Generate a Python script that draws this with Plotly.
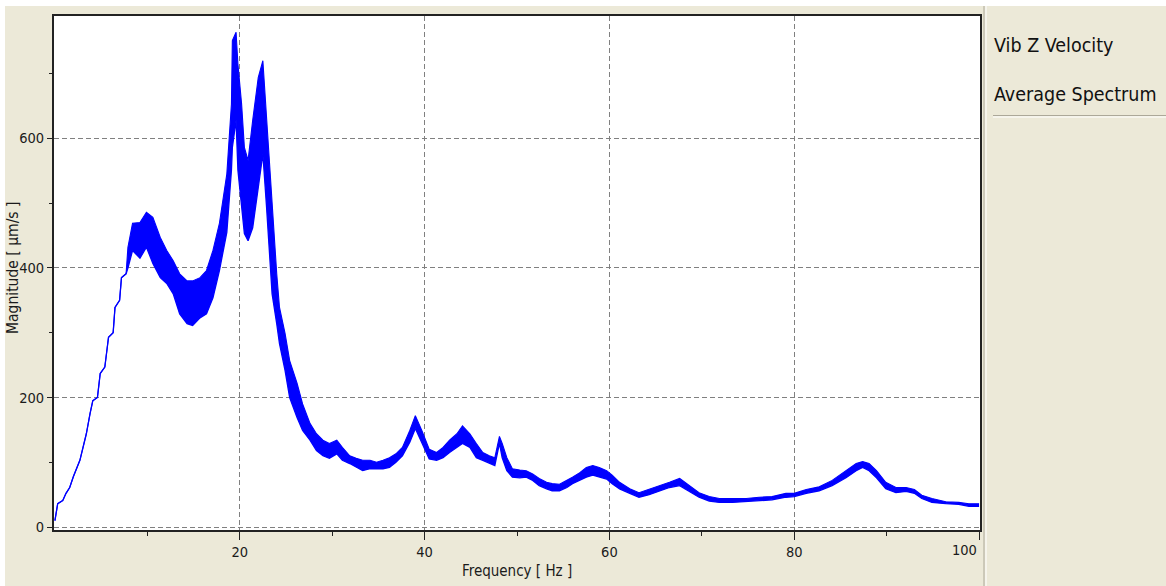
import plotly.graph_objects as go

# ---- data (Hz, µm/s) ----
freq = [0.0, 0.3, 0.85, 1.2, 1.6, 2.0, 2.7, 3.4, 3.8, 4.1, 4.6, 4.9, 5.4, 5.8, 6.3, 6.5, 7.0, 7.2, 7.7,
        7.9, 8.4, 9.2, 9.9, 10.6, 11.4, 12.1, 12.8, 13.5, 14.3, 14.9, 15.7, 16.4, 17.1, 17.8, 18.6,
        19.1, 19.2, 19.6, 19.8, 20.2, 20.5, 20.9, 21.4, 22.0, 22.5, 22.9, 23.5, 24.0, 24.3, 24.9,
        25.4, 26.2, 26.8, 27.6, 28.3, 29.0, 29.7, 30.5, 31.1, 31.9, 32.6, 33.3, 34.1, 34.8, 35.5,
        36.2, 36.9, 37.6, 38.4, 39.0, 39.7, 40.5, 41.3, 42.0, 42.7, 43.5, 44.1, 44.9, 45.6, 46.3,
        47.0, 47.6, 48.1, 48.4, 48.9, 49.5, 50.3, 51.0, 51.7, 52.4, 53.2, 53.8, 54.6, 55.4, 56.0,
        56.8, 57.5, 58.2, 58.9, 59.7, 60.3, 61.1, 62.2, 63.2, 64.3, 65.4, 66.5, 67.6, 68.6, 69.7,
        70.8, 71.9, 73.3, 74.8, 76.2, 77.6, 79.1, 80.0, 81.3, 82.7, 84.1, 85.6, 86.7, 87.4, 88.1,
        88.9, 89.9, 91.0, 92.1, 93.0, 93.8, 94.9, 96.4, 97.8, 98.9, 100.0]

mag_hi = [10, 36, 41, 52, 61, 78, 103, 144, 175, 195, 200, 237, 247, 293, 300, 339, 350, 385, 391,
          432, 469, 470, 486, 478, 447, 427, 411, 391, 380, 380, 385, 396, 427, 469, 545,
          653, 751, 764, 715, 653, 586, 566, 628, 694, 720, 628, 494, 391, 339, 299,
          257, 222, 190, 160, 144, 134, 129, 134, 123, 110, 106, 103, 103, 100, 103,
          107, 113, 123, 149, 172, 149, 120, 115, 123, 134, 144, 156, 144, 129, 115,
          110, 107, 140, 129, 107, 90, 88, 87, 82, 75, 69, 67, 66, 72, 77,
          84, 92, 95, 92, 87, 80, 69, 59, 53, 58, 64, 69, 75, 64, 53,
          47, 44, 44, 44, 46, 47, 52, 52, 58, 62, 72, 87, 98, 101, 98,
          87, 69, 61, 61, 58, 49, 44, 39, 38, 36, 36]

mag_lo = [10, 36, 41, 52, 61, 78, 103, 144, 175, 195, 200, 237, 247, 293, 300, 339, 350, 385, 391,
          400, 427, 415, 432, 407, 385, 376, 360, 329, 314, 311, 323, 329, 354, 396, 455,
          551, 586, 628, 551, 494, 453, 442, 462, 524, 576, 494, 360, 314, 283, 242,
          200, 169, 149, 134, 118, 110, 106, 113, 103, 98, 92, 87, 90, 90, 90,
          92, 100, 110, 131, 152, 129, 105, 103, 107, 115, 123, 129, 123, 107, 103,
          98, 95, 129, 107, 87, 77, 76, 77, 72, 64, 59, 56, 56, 61, 67,
          72, 77, 80, 77, 74, 67, 59, 52, 46, 50, 56, 61, 64, 55, 46,
          40, 38, 38, 39, 41, 42, 46, 47, 52, 56, 64, 76, 87, 92, 87,
          76, 59, 53, 55, 52, 44, 38, 36, 35, 32, 32]

x_ticks = [20, 40, 60, 80, 100]
x_tick_text = ["20", "40", "60", "80", ""]   # "100" is drawn right-aligned at the axis end
x_last_label = "100"
x_minor = [10, 30, 50, 70, 90]
y_ticks = [0, 200, 400, 600]
y_minor = [100, 300, 500, 700]

x_title = "Frequency [ Hz ]"
y_title = "Magnitude [ µm/s ]"
panel_lines = ["Vib Z Velocity", "Average Spectrum"]

# ---- layout geometry (pixels) ----
W, H = 1166, 586
L, R, T, B = 54, 980, 16, 530
FONT = "DejaVu Sans Condensed, DejaVu Sans, sans-serif"
BEIGE = "#ECE9D8"
BLUE = "#0000FF"
TXT = "#1b1b1b"


def px(x):
    return (x - L) / (R - L)


def py(y):
    return (B - y) / (B - T)


fig = go.Figure()
fig.add_trace(go.Scatter(x=freq, y=mag_lo, mode="lines",
                         line=dict(color=BLUE, width=1.3), hoverinfo="skip", showlegend=False))
fig.add_trace(go.Scatter(x=freq, y=mag_hi, mode="lines", fill="tonexty", fillcolor=BLUE,
                         line=dict(color=BLUE, width=1.1), showlegend=False))

axis_common = dict(
    showline=True, mirror=True, linecolor="#222222", linewidth=2,
    ticks="outside", tickcolor="#222222", tickwidth=1,
    showgrid=True, gridcolor="#808080", gridwidth=1, griddash="5px,3px",
    zeroline=False,
    tickfont=dict(family=FONT, size=14.5, color=TXT),
    fixedrange=True,
)

fig.update_xaxes(range=[-0.1, 100.1], tickmode="array", tickvals=x_ticks, ticktext=x_tick_text,
                 ticklen=8,
                 minor=dict(tickmode="array", tickvals=x_minor, ticks="outside", ticklen=4,
                            tickcolor="#222222", showgrid=False),
                 **axis_common)
fig.update_yaxes(range=[-4.6, 789], tickmode="array", tickvals=y_ticks, ticklen=5,
                 minor=dict(tickmode="array", tickvals=y_minor, ticks="outside", ticklen=3,
                            tickcolor="#222222", showgrid=False),
                 **axis_common)

shapes = [
    # white outer strips (left / top)
    dict(type="rect", xref="paper", yref="paper", x0=px(-2), x1=px(5), y0=py(H + 2), y1=py(-2),
         fillcolor="white", line=dict(width=0), layer="below"),
    dict(type="rect", xref="paper", yref="paper", x0=px(-2), x1=px(W + 2), y0=py(6), y1=py(-2),
         fillcolor="white", line=dict(width=0), layer="below"),
    # vertical panel separator
    dict(type="line", xref="paper", yref="paper", x0=px(984), x1=px(984), y0=py(6), y1=py(H + 2),
         line=dict(color="#ACA899", width=1)),
    dict(type="line", xref="paper", yref="paper", x0=px(986), x1=px(986), y0=py(6), y1=py(H + 2),
         line=dict(color="#FFFFFF", width=1)),
    # horizontal separator under panel text
    dict(type="line", xref="paper", yref="paper", x0=px(993), x1=px(W + 2), y0=py(115.5), y1=py(115.5),
         line=dict(color="#ACA899", width=1)),
    dict(type="line", xref="paper", yref="paper", x0=px(993), x1=px(W + 2), y0=py(117), y1=py(117),
         line=dict(color="#FFFFFF", width=1)),
]

annotations = [
    dict(text=x_last_label, xref="x", yref="paper", x=x_ticks[-1], y=py(550), showarrow=False,
         xanchor="right", yanchor="middle", font=dict(family=FONT, size=14.5, color=TXT)),
    dict(text=x_title, xref="paper", yref="paper", x=px(517), y=py(571), showarrow=False,
         xanchor="center", yanchor="middle", font=dict(family=FONT, size=15, color=TXT)),
    dict(text=y_title, xref="paper", yref="paper", x=px(13), y=py(268), showarrow=False,
         textangle=-90, xanchor="center", yanchor="middle",
         font=dict(family=FONT, size=15.5, color=TXT)),
    dict(text=panel_lines[0], xref="paper", yref="paper", x=px(992), y=py(45), showarrow=False,
         xanchor="left", yanchor="middle", font=dict(family=FONT, size=19.5, color="#111111")),
    dict(text=panel_lines[1], xref="paper", yref="paper", x=px(992), y=py(94), showarrow=False,
         xanchor="left", yanchor="middle", font=dict(family=FONT, size=19.5, color="#111111")),
]

fig.update_layout(
    width=W, height=H,
    margin=dict(l=L, r=W - R, t=T, b=H - B, pad=0),
    paper_bgcolor=BEIGE, plot_bgcolor="white",
    shapes=shapes, annotations=annotations,
    showlegend=False,
)

fig.write_html("out.html", config={"displayModeBar": False},
               post_script="document.body.style.margin='0';document.body.style.padding='0';")
